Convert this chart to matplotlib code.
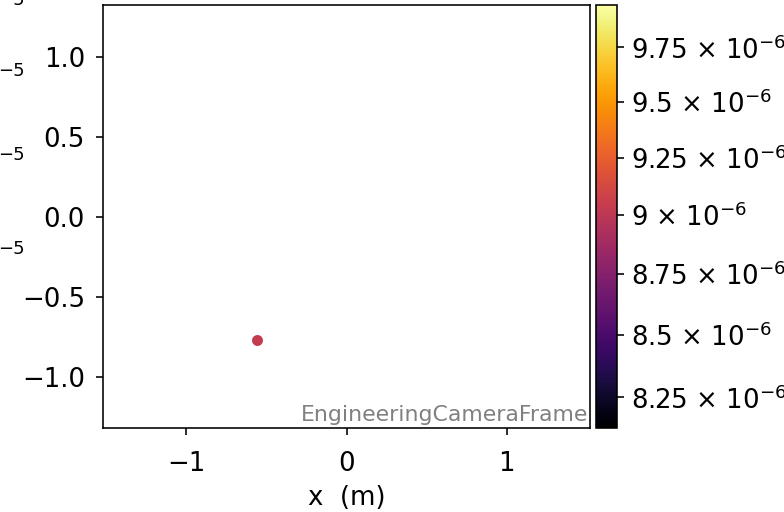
import matplotlib
matplotlib.use("Agg")
import matplotlib.pyplot as plt
from matplotlib.colors import LogNorm
from matplotlib.ticker import FuncFormatter, NullLocator

plt.rcParams["font.size"] = 13

# data
x_pts = [-0.56]
y_pts = [-0.77]
vals = [9.03e-6]
vmin, vmax = 8.13e-6, 9.95e-6
cbar_ticks = [8.25e-6, 8.5e-6, 8.75e-6, 9.0e-6, 9.25e-6, 9.5e-6, 9.75e-6]
frame_name = "EngineeringCameraFrame"
# clipped labels of the neighbour panel (figure-fraction heights)
stub_y = [1.0, 0.861, 0.697, 0.514]


def sci_fmt(value, pos):
    m = value / 1e-6
    s = f"{m:.2f}".rstrip("0").rstrip(".")
    return s + " \u00d7 " + r"$\mathdefault{10^{-6}}$"


fig = plt.figure(figsize=(784 / 144, 512 / 144), dpi=144)
ax = fig.add_axes([0.1314, 0.1641, 0.6212, 0.8262])
cax = fig.add_axes([0.7602, 0.1641, 0.0268, 0.8262])

sc = ax.scatter(x_pts, y_pts, c=vals, cmap="inferno",
                norm=LogNorm(vmin=vmin, vmax=vmax), s=20)
ax.set_xlim(-1.52, 1.52)
ax.set_ylim(-1.32, 1.325)
ax.set_xticks([-1, 0, 1])
ax.set_yticks([-1.0, -0.5, 0.0, 0.5, 1.0])
ax.tick_params(axis="x", pad=8)
ax.tick_params(axis="y", pad=5.5)
ax.set_xlabel("x  (m)")
ax.text(0.997, 0.007, frame_name, transform=ax.transAxes, ha="right",
        va="bottom", color="gray", fontsize=11)

cb = fig.colorbar(sc, cax=cax)
cb.set_ticks(cbar_ticks)
cb.ax.yaxis.set_major_formatter(FuncFormatter(sci_fmt))
cb.ax.yaxis.set_minor_locator(NullLocator())

for yy in stub_y:
    fig.text(-0.003, yy, "\u22125", fontsize=9, ha="left", va="center")

fig.savefig("out.png", dpi=144)
